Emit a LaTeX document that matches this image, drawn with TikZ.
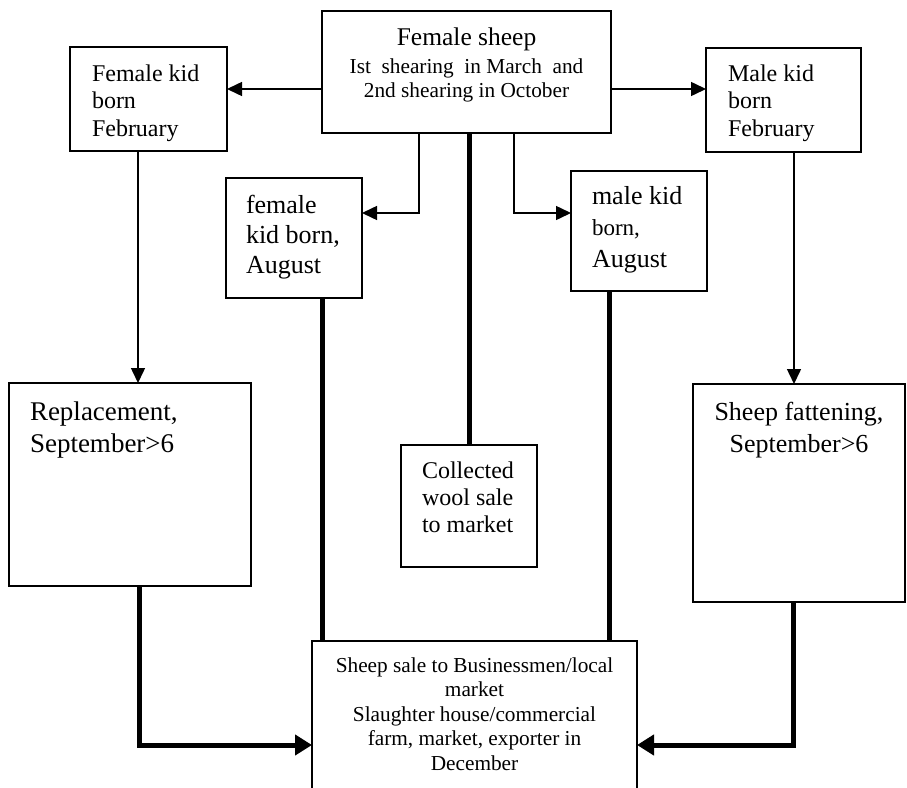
\documentclass[tikz,border=0pt]{standalone}
\usepackage{fontspec}
\setmainfont{Liberation Serif}
\usetikzlibrary{arrows.meta}

\begin{document}
\begin{tikzpicture}[x=1pt, y=-1pt,
    box/.style={draw, line width=2pt, outer sep=0pt, anchor=north west},
    link/.style={line width=1.5pt, -{Triangle[length=15pt, width=14pt]}},
    trunk/.style={line width=5pt},
    feed/.style={trunk, -{Triangle[length=17pt, width=20pt]}}]
    \useasboundingbox (0,0) rectangle (907,787);
    \clip (0,0) rectangle (907,787);

    % boxes
    \node[box, inner xsep=9pt, inner ysep=16.6pt] (sheep) at (322,11)
        {\parbox[t][88.8pt][t]{271pt}{\centering\fontsize{21.3}{24}\selectfont
        {\fontsize{25.5}{24}\selectfont Female sheep}\\[4pt]
        Ist\ \ shearing\ \ in March\ \ and\\
        2nd shearing in October}};
    \node[box, inner xsep=22pt, inner ysep=17.6pt] (fkfeb) at (70,47)
        {\parbox[t][68.8pt][t]{113pt}{\raggedright\fontsize{24}{27.5}\selectfont
        Female kid\\ born\\ February}};
    \node[box, inner xsep=22pt, inner ysep=16.6pt] (mkfeb) at (706,48)
        {\parbox[t][70.8pt][t]{111pt}{\raggedright\fontsize{24}{27.5}\selectfont
        Male kid\\ born\\ February}};
    \node[box, inner xsep=20pt, inner ysep=17.2pt] (fkaug) at (226,178)
        {\parbox[t][85.6pt][t]{96pt}{\raggedright\fontsize{26}{30}\selectfont
        female\\ kid born,\\ August}};
    \node[box, inner xsep=21pt, inner ysep=15.2pt] (mkaug) at (571,171)
        {\parbox[t][89.6pt][t]{94pt}{\raggedright\fontsize{26}{31.5}\selectfont
        male kid\\ {\fontsize{23}{31.5}\selectfont born,}\\ August}};
    \node[box, inner xsep=21pt, inner ysep=16.6pt] (wool) at (401,445)
        {\parbox[t][88.8pt][t]{94pt}{\raggedright\fontsize{24}{27}\selectfont
        Collected\\ wool sale\\ to market}};
    \node[box, inner xsep=21pt, inner ysep=18.6pt] (repl) at (9,383)
        {\parbox[t][165.8pt][t]{200pt}{\raggedright\fontsize{27}{32}\selectfont
        Replacement,\\ September>6}};
    \node[box, inner xsep=8pt, inner ysep=18.2pt] (fatten) at (693,384)
        {\parbox[t][181.6pt][t]{196pt}{\centering\fontsize{26}{32}\selectfont
        Sheep fattening,\\ September>6}};
    \node[box, inner xsep=8pt, inner ysep=16.5pt] (sale) at (312,641)
        {\parbox[t][116pt][t]{309pt}{\centering\fontsize{21.3}{24.5}\selectfont
        Sheep sale to Businessmen/local\\ market\\ Slaughter house/commercial\\
        farm, market, exporter in\\ December}};

    % kids from the ewe
    \draw[link] (sheep.west |- 0,89) -- (fkfeb.east |- 0,89);
    \draw[link] (sheep.east |- 0,89) -- (mkfeb.west |- 0,89);
    \draw[link] (419,0 |- sheep.south) |- (fkaug.east |- 0,213);
    \draw[link] (514,0 |- sheep.south) |- (mkaug.west |- 0,213);
    \draw[trunk] (wool.north |- sheep.south) -- (wool.north);

    % February kids
    \draw[link] (138,0 |- fkfeb.south) -- (138,0 |- repl.north);
    \draw[link] (794,0 |- mkfeb.south) -- (794,0 |- fatten.north);

    % to the sale
    \draw[feed] (139,0 |- repl.south) |- (sale.west |- 0,745);
    \draw[feed] (793,0 |- fatten.south) |- (sale.east |- 0,745);
    \draw[trunk] (322,0 |- fkaug.south) -- (322,0 |- sale.north);
    \draw[trunk] (609,0 |- mkaug.south) -- (609,0 |- sale.north);
\end{tikzpicture}
\end{document}
